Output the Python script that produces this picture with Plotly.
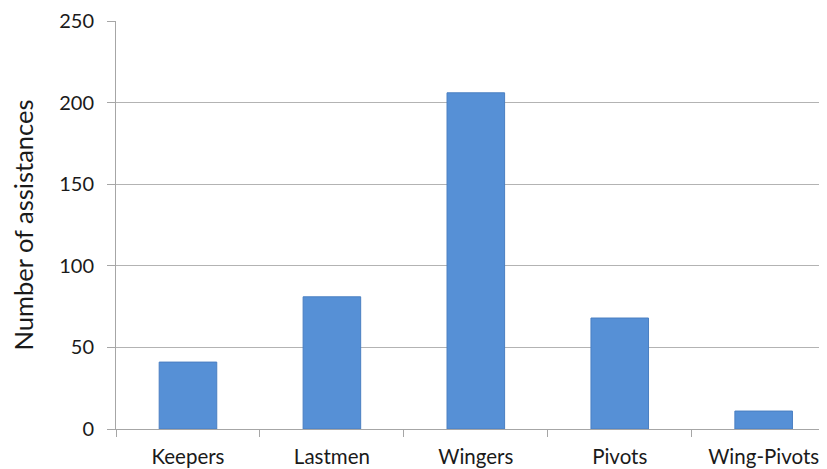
import plotly.graph_objects as go

categories = ["Keepers", "Lastmen", "Wingers", "Pivots", "Wing-Pivots"]
values = [41, 81, 206, 68, 11]
y_ticks = [0, 50, 100, 150, 200, 250]

fig = go.Figure(
    go.Bar(
        x=categories,
        y=values,
        marker=dict(color="#5690d6", line=dict(color="#4a7fc2", width=1)),
    )
)

fig.update_layout(
    width=819,
    height=461,
    margin=dict(l=108, r=0, t=13, b=40, autoexpand=False),
    paper_bgcolor="white",
    plot_bgcolor="white",
    bargap=0.6,
    showlegend=False,
    font=dict(family="Lato, Calibri, sans-serif", color="#1a1a1a"),
)

fig.update_xaxes(
    range=[-0.5, 4.44],
    automargin=False,
    showgrid=False,
    showline=True,
    linecolor="#a6a6a6",
    linewidth=1,
    ticks="outside",
    tickson="boundaries",
    ticklen=7,
    tickcolor="#a6a6a6",
    tickfont=dict(size=20.5),
    ticklabelstandoff=9,
)

fig.update_yaxes(
    range=[0, 250],
    automargin=False,
    tickvals=y_ticks,
    showgrid=True,
    gridcolor="#b3b3b3",
    gridwidth=1,
    zeroline=False,
    showline=True,
    linecolor="#a6a6a6",
    linewidth=1,
    ticks="outside",
    ticklen=8,
    tickcolor="#a6a6a6",
    tickfont=dict(size=20),
    ticklabelstandoff=9,
    title=dict(text="Number of assistances", font=dict(size=25.5), standoff=18),
)

fig.write_html("out.html")
